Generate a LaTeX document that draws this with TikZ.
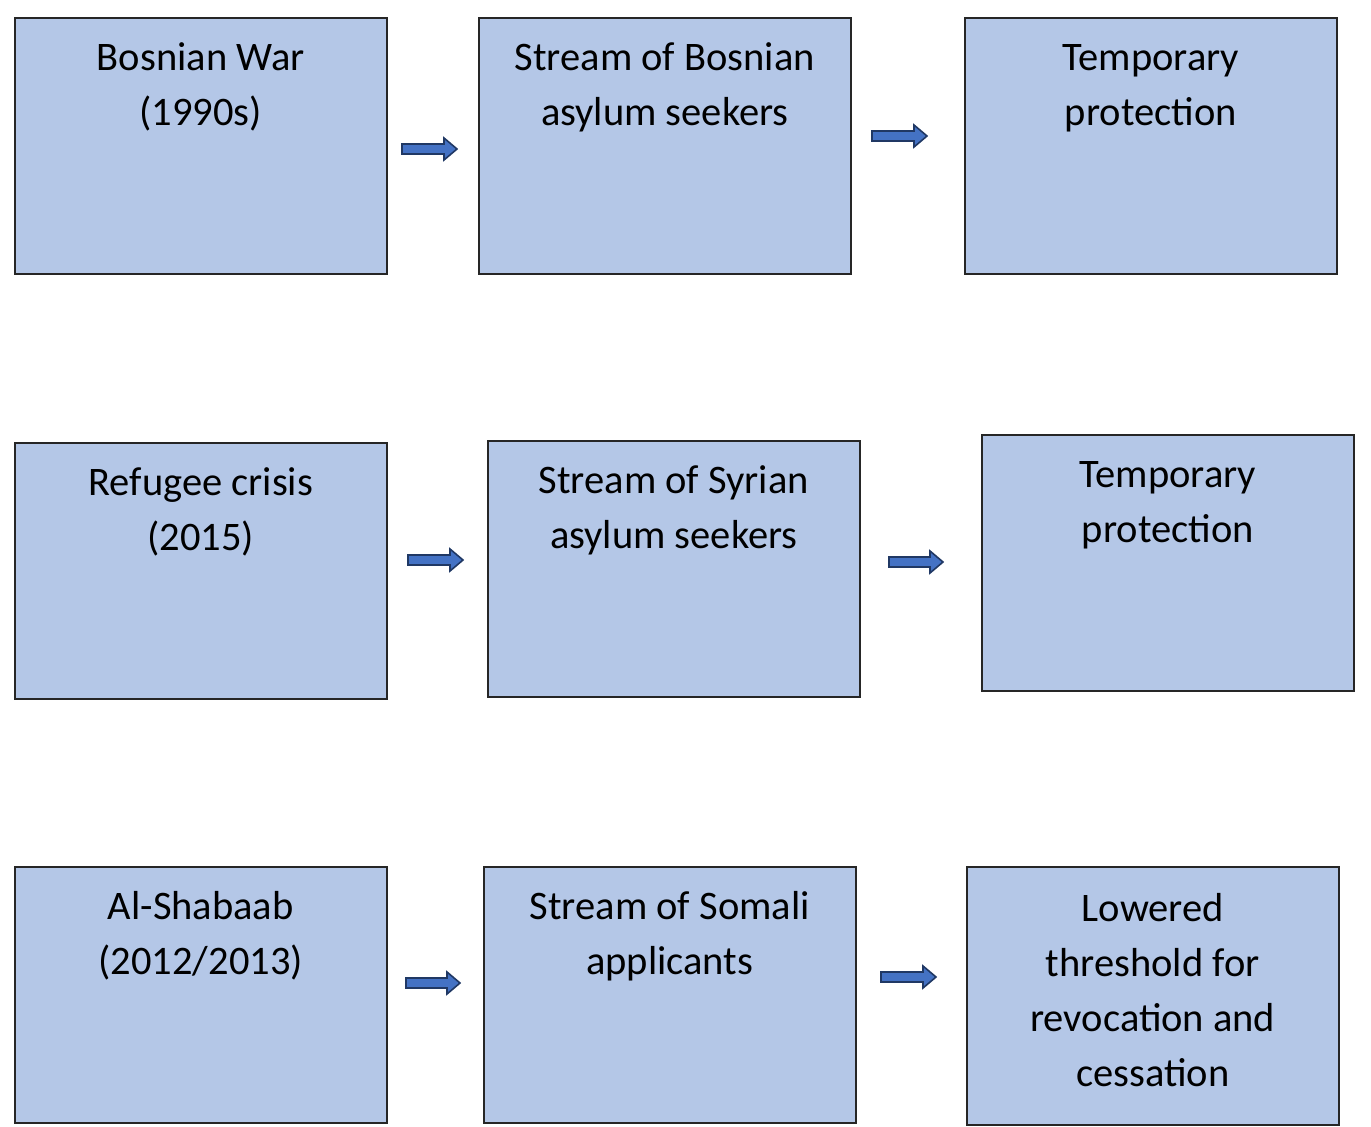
\documentclass[tikz,border=0pt]{standalone}
\usepackage{fontspec}
\setmainfont{Carlito}
\usetikzlibrary{calc}
\definecolor{boxfill}{HTML}{B4C7E7}
\definecolor{boxline}{HTML}{262626}
\definecolor{arrfill}{HTML}{4472C4}
\definecolor{arrline}{HTML}{203864}
\newcommand\blockarr[2]{%
  \draw[arrowshape] ($(#1)+(0,5)$) -- ($(#2)+(-13,5)$) -- ($(#2)+(-13,11)$) -- (#2)
    -- ($(#2)+(-13,-11)$) -- ($(#2)+(-13,-5)$) -- ($(#1)+(0,-5)$) -- cycle;}
\begin{document}
\begin{tikzpicture}[x=1pt,y=1pt,
  boxnode/.style={draw=boxline,line width=1.6pt,fill=boxfill,minimum width=372pt,minimum height=256pt,anchor=north west,inner sep=0pt},
  txtnode/.style={anchor=north,align=center,inner sep=0pt,font=\fontsize{40.5}{55}\selectfont,text=black},
  arrowshape/.style={draw=arrline,line width=1.6pt,fill=arrfill,line join=miter}]
\useasboundingbox (0,0) rectangle (1371,-1127);
% boxes
\node[boxnode] (b1) at (14,-17) {};
\node[boxnode] (b2) at (478,-17) {};
\node[boxnode] (b3) at (964,-17) {};
\node[boxnode] (b4) at (14,-442) {};
\node[boxnode] (b5) at (487,-440) {};
\node[boxnode] (b6) at (981,-434) {};
\node[boxnode] (b7) at (14,-866) {};
\node[boxnode] (b8) at (483,-866) {};
\node[boxnode,minimum height=258pt] (b9) at (966,-866) {};
% texts
\node[txtnode] (t1) at ($(b1.north)+(0,-15)$) {\strut Bosnian War\\(1990s)};
\node[txtnode] (t2) at ($(b2.north)+(0,-15)$) {\strut Stream of Bosnian\\asylum seekers};
\node[txtnode] (t3) at ($(b3.north)+(0,-15)$) {\strut Temporary\\protection};
\node[txtnode] (t4) at ($(b4.north)+(0,-15)$) {\strut Refugee crisis\\(2015)};
\node[txtnode] (t5) at ($(b5.north)+(0,-15)$) {\strut Stream of Syrian\\asylum seekers};
\node[txtnode] (t6) at ($(b6.north)+(0,-15)$) {\strut Temporary\\protection};
\node[txtnode] (t7) at ($(b7.north)+(0,-15)$) {\strut Al-Shabaab\\(2012/2013)};
\node[txtnode] (t8) at ($(b8.north)+(0,-15)$) {\strut Stream of Somali\\applicants};
\node[txtnode] (t9) at ($(b9.north)+(0,-17)$) {\strut Lowered\\threshold for\\revocation and\\cessation};
% arrow end points
\coordinate (a1s) at (402,-149); \coordinate (a1e) at (457,-149);
\coordinate (a2s) at (872,-136); \coordinate (a2e) at (927,-136);
\coordinate (a3s) at (408,-560); \coordinate (a3e) at (463,-560);
\coordinate (a4s) at (889,-562); \coordinate (a4e) at (943,-562);
\coordinate (a5s) at (406,-983); \coordinate (a5e) at (460,-983);
\coordinate (a6s) at (881,-977); \coordinate (a6e) at (936,-977);
\blockarr{a1s}{a1e}
\blockarr{a2s}{a2e}
\blockarr{a3s}{a3e}
\blockarr{a4s}{a4e}
\blockarr{a5s}{a5e}
\blockarr{a6s}{a6e}
\end{tikzpicture}
\end{document}
